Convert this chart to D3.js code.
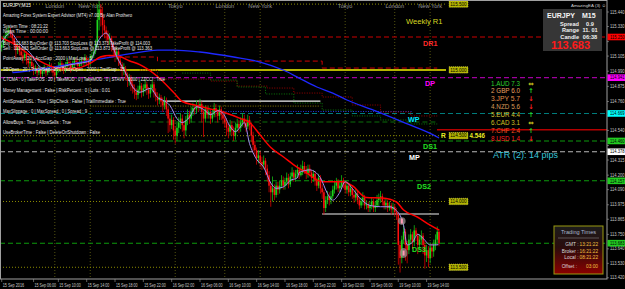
<!DOCTYPE html>
<html>
<head>
<meta charset="utf-8">
<script src="https://cdn.jsdelivr.net/npm/d3@7"></script>
<style>
  body { margin: 0; background: #000; }
  svg { display: block; }
</style>
</head>
<body>
<div id="chart"></div>
<script>
// ---------- data (EURJPY M15) ----------
const symbolTitle = "EURJPY,M15";

const opens = [
  115.17,115.19,115.23,115.26,115.28,115.30,115.27,115.24,115.19,115.15,
  115.17,115.14,115.11,115.09,115.12,115.07,115.05,115.06,115.03,115.00,
  115.01,114.98,115.00,114.97,114.99,115.01,114.98,115.00,115.03,115.01,
  114.98,114.96,115.00,115.03,115.05,115.02,115.00,115.03,115.06,115.05,
  115.01,115.04,115.07,115.06,115.03,115.05,115.07,115.06,115.09,115.07,
  115.05,115.09,115.11,115.14,115.19,115.38,115.46,115.42,115.34,115.30,
  115.27,115.23,115.24,115.19,115.15,115.11,115.14,115.07,115.04,115.00,
  115.01,114.96,114.92,114.94,114.89,114.86,114.83,114.81,114.85,114.88,
  114.83,114.86,114.89,114.85,114.82,114.86,114.89,114.83,114.80,114.77,
  114.79,114.76,114.73,114.77,114.70,114.63,114.58,114.62,114.54,114.50,
  114.56,114.60,114.63,114.58,114.54,114.62,114.66,114.63,114.68,114.71,
  114.70,114.73,114.71,114.74,114.68,114.63,114.70,114.66,114.68,114.63,
  114.66,114.71,114.68,114.65,114.70,114.66,114.63,114.60,114.56,114.53,
  114.58,114.54,114.50,114.56,114.59,114.56,114.60,114.63,114.60,114.57,
  114.62,114.58,114.50,114.43,114.39,114.33,114.35,114.30,114.28,114.31,
  114.25,114.20,114.12,114.07,114.10,114.05,114.12,114.09,114.12,114.16,
  114.12,114.15,114.18,114.13,114.19,114.22,114.18,114.21,114.24,
  114.20,114.22,114.27,114.24,114.21,114.25,114.22,114.18,114.21,114.16,
  114.12,114.18,114.10,114.07,113.95,114.01,114.04,114.01,114.04,114.09,
  114.12,114.15,114.10,114.12,114.16,114.13,114.09,114.12,114.07,114.10,
  114.05,114.03,114.06,114.01,113.97,114.00,114.03,113.97,113.98,113.95,
  113.97,114.00,113.95,113.97,
  114.01,114.03,114.04,114.00,113.97,113.99,113.95,113.97,113.94,113.96,
  113.92,113.90,113.67,113.57,113.71,113.77,113.67,113.63,113.71,113.75,
  113.69,113.78,113.74,113.67,113.71,113.74,113.67,113.59,113.63,113.57,
  113.65,113.62,113.67,113.71,113.77
];
const highs = [
  115.22,115.26,115.29,115.32,115.33,115.32,115.29,115.26,115.21,115.20,
  115.19,115.16,115.14,115.15,115.14,115.10,115.09,115.08,115.05,115.04,
  115.03,115.03,115.02,115.02,115.04,115.03,115.03,115.06,115.05,115.03,
  115.00,115.03,115.06,115.08,115.07,115.05,115.06,115.09,115.08,115.07,
  115.07,115.10,115.09,115.08,115.08,115.10,115.09,115.12,115.11,115.09,
  115.12,115.14,115.17,115.23,115.50,115.53,115.50,115.48,115.38,115.33,
  115.30,115.28,115.26,115.22,115.18,115.17,115.16,115.10,115.06,115.05,
  115.03,114.98,114.97,114.96,114.92,114.89,114.86,114.88,114.92,114.90,
  114.89,114.93,114.91,114.87,114.89,114.92,114.91,114.86,114.83,114.82,
  114.81,114.79,114.80,114.79,114.72,114.66,114.66,114.64,114.57,114.60,
  114.64,114.67,114.66,114.61,114.65,114.70,114.69,114.72,114.75,114.74,
  114.77,114.76,114.78,114.76,114.70,114.73,114.73,114.72,114.70,114.70,
  114.75,114.74,114.70,114.73,114.72,114.69,114.66,114.63,114.59,114.62,
  114.61,114.57,114.60,114.63,114.62,114.64,114.67,114.66,114.63,114.66,
  114.65,114.60,114.53,114.46,114.41,114.39,114.38,114.34,114.35,114.33,
  114.28,114.23,114.14,114.19,114.13,114.15,114.15,114.16,114.20,114.19,
  114.18,114.22,114.21,114.22,114.26,114.24,114.24,114.28,114.26,
  114.28,114.31,114.30,114.27,114.28,114.28,114.24,114.24,114.23,114.18,
  114.21,114.20,114.13,114.09,114.04,114.08,114.07,114.08,114.12,114.16,
  114.18,114.17,114.15,114.20,114.18,114.15,114.15,114.14,114.13,114.12,
  114.08,114.10,114.08,114.03,114.03,114.07,114.05,114.01,114.00,114.00,
  114.03,114.02,114.00,114.05,
  114.06,114.08,114.06,114.02,114.02,114.01,114.00,113.99,113.99,113.98,
  113.95,113.92,113.70,113.74,113.84,113.79,113.70,113.75,113.79,113.77,
  113.82,113.80,113.76,113.75,113.78,113.76,113.70,113.67,113.66,113.69,
  113.68,113.71,113.75,113.81,113.79
];
const lows = [
  115.14,115.17,115.21,115.24,115.26,115.25,115.21,115.15,115.09,115.12,
  115.11,115.08,115.05,115.07,115.04,115.02,115.02,114.99,114.96,114.97,
  114.95,114.96,114.94,114.95,114.97,114.95,114.96,114.98,114.98,114.95,
  114.92,114.94,114.98,115.01,114.99,114.97,114.98,115.01,115.02,114.98,
  114.99,115.02,115.03,115.00,115.01,115.03,115.03,115.04,115.04,115.02,
  115.03,115.07,115.09,115.12,115.17,115.30,115.33,115.25,115.24,115.22,
  115.19,115.19,115.14,115.11,115.06,115.08,115.03,114.99,114.95,114.96,
  114.92,114.87,114.88,114.84,114.82,114.78,114.77,114.78,114.82,114.79,
  114.80,114.83,114.81,114.78,114.79,114.83,114.79,114.76,114.73,114.74,
  114.72,114.68,114.70,114.65,114.52,114.53,114.55,114.47,114.44,114.46,
  114.52,114.55,114.53,114.48,114.50,114.58,114.59,114.60,114.65,114.66,
  114.67,114.68,114.69,114.60,114.49,114.60,114.63,114.63,114.59,114.60,
  114.64,114.64,114.60,114.62,114.62,114.59,114.56,114.50,114.48,114.50,
  114.50,114.46,114.47,114.53,114.52,114.53,114.57,114.56,114.53,114.55,
  114.54,114.45,114.38,114.34,114.28,114.29,114.26,114.24,114.25,114.20,
  114.15,114.07,113.96,114.00,114.01,114.03,114.05,114.06,114.10,114.09,
  114.09,114.12,114.10,114.11,114.16,114.15,114.15,114.18,114.17,
  114.19,114.20,114.21,114.17,114.18,114.19,114.14,114.15,114.12,114.08,
  114.10,114.06,114.02,113.90,113.92,113.98,113.97,113.98,114.02,114.06,
  114.09,114.07,114.07,114.10,114.10,114.06,114.06,114.04,114.04,114.02,
  113.99,114.00,113.98,113.94,113.95,113.97,113.94,113.94,113.92,113.92,
  113.94,113.92,113.92,113.95,
  113.96,113.99,113.97,113.94,113.94,113.92,113.93,113.90,113.91,113.89,
  113.86,113.52,113.46,113.53,113.68,113.55,113.53,113.60,113.68,113.64,
  113.66,113.70,113.60,113.63,113.67,113.60,113.49,113.54,113.50,113.53,
  113.57,113.58,113.63,113.67,113.66
];
const closes = [
  115.19,115.23,115.26,115.28,115.30,115.27,115.24,115.19,115.15,115.17,
  115.14,115.11,115.09,115.12,115.07,115.05,115.06,115.03,115.00,115.01,
  114.98,115.00,114.97,114.99,115.01,114.98,115.00,115.03,115.01,114.98,
  114.96,115.00,115.03,115.05,115.02,115.00,115.03,115.06,115.05,115.01,
  115.04,115.07,115.06,115.03,115.05,115.07,115.06,115.09,115.07,115.05,
  115.09,115.11,115.14,115.19,115.38,115.46,115.42,115.34,115.30,115.27,
  115.23,115.24,115.19,115.15,115.11,115.14,115.07,115.04,115.00,115.01,
  114.96,114.92,114.94,114.89,114.86,114.83,114.81,114.85,114.88,114.83,
  114.86,114.89,114.85,114.82,114.86,114.89,114.83,114.80,114.77,114.79,
  114.76,114.73,114.77,114.70,114.63,114.58,114.62,114.54,114.50,114.56,
  114.60,114.63,114.58,114.54,114.62,114.66,114.63,114.68,114.71,114.70,
  114.73,114.71,114.74,114.68,114.63,114.70,114.66,114.68,114.63,114.66,
  114.71,114.68,114.65,114.70,114.66,114.63,114.60,114.56,114.53,114.58,
  114.54,114.50,114.56,114.59,114.56,114.60,114.63,114.60,114.57,114.62,
  114.58,114.50,114.43,114.39,114.33,114.35,114.30,114.28,114.31,114.25,
  114.20,114.12,114.07,114.10,114.05,114.12,114.09,114.12,114.16,114.12,
  114.15,114.18,114.13,114.19,114.22,114.18,114.21,114.24,114.20,
  114.22,114.27,114.24,114.21,114.25,114.22,114.18,114.21,114.16,114.12,
  114.18,114.10,114.07,113.95,114.01,114.04,114.01,114.04,114.09,114.12,
  114.15,114.10,114.12,114.16,114.13,114.09,114.12,114.07,114.10,114.05,
  114.03,114.06,114.01,113.97,114.00,114.03,113.97,113.98,113.95,113.97,
  114.00,113.95,113.97,114.01,
  114.03,114.04,114.00,113.97,113.99,113.95,113.97,113.94,113.96,113.92,
  113.90,113.67,113.57,113.71,113.77,113.67,113.63,113.71,113.75,113.69,
  113.78,113.74,113.67,113.71,113.74,113.67,113.59,113.63,113.57,113.65,
  113.62,113.67,113.71,113.77,113.683
];

// moving averages as [bar, price]
const fastMA = [[0,115.21],[5,115.28],[10,115.20],[16,115.13],[22,115.02],[27,115.00],[33,115.02],
  [39,115.04],[44,115.05],[50,115.07],[55,115.23],[59,115.28],[65,115.10],[71,114.95],[74,114.87],
  [78,114.83],[84,114.86],[88,114.79],[91,114.77],[95,114.73],[99,114.63],[102,114.60],[106,114.64],
  [110,114.72],[114,114.70],[118,114.66],[122,114.69],[125,114.67],[129,114.57],[132,114.53],
  [135,114.57],[137,114.60],[140,114.44],[144,114.32],[148,114.26],[152,114.14],[155,114.10],
  [159,114.11],[163,114.16],[167,114.18],[168,114.22],[174,114.24],[180,114.18],[184,114.06],
  [187,114.01],[191,114.07],[194,114.15],[198,114.10],[202,114.03],[208,113.97],[214,113.96],
  [219,113.96],[223,113.93],[227,113.82],[229,113.67],[232,113.69],[235,113.75],[238,113.72],
  [242,113.67],[246,113.67],[247,113.68]];
const slowMA = [[0,115.24],[8,115.19],[16,115.11],[24,115.05],[33,115.01],[41,115.01],[50,115.05],
  [56,115.10],[61,115.11],[67,115.10],[72,115.07],[78,115.04],[88,114.95],[97,114.83],[102,114.76],
  [110,114.73],[119,114.70],[127,114.67],[135,114.63],[140,114.60],[146,114.505],[152,114.41],
  [159,114.34],[167,114.26],[172,114.22],[181,114.15],[193,114.15],[198,114.12],[206,114.03],
  [215,114.026],[223,113.996],[227,113.935],[235,113.88],[242,113.82],[247,113.783]];
const longMA = [[6,114.98],[10,114.984],[33,115.03],[56,115.083],[72,115.121],[88,115.151],[97,115.151],
  [112,115.136],[131,115.098],[146,115.06],[159,114.999],[168,114.938],[178,114.87],[187,114.824],
  [195,114.771],[210,114.695],[228,114.596],[246,114.49],[247,114.482]];

// axes
const priceTicks = [115.440,115.330,115.215,115.105,114.990,114.875,114.760,114.650,114.540,114.425,
  114.315,114.200,114.090,113.975,113.865,113.750,113.640,113.530,113.420];
const timeTickBars = [0,18,32,48,64,80,96,112,128,144,160,176,192,208,224,240];
const timeTickLabels = ["15 Sep 2016","15 Sep 06:00","15 Sep 10:00","15 Sep 14:00","15 Sep 18:00",
  "15 Sep 22:00","16 Sep 02:00","16 Sep 06:00","16 Sep 10:00","16 Sep 14:00","16 Sep 18:00",
  "16 Sep 22:00","19 Sep 02:00","19 Sep 06:00","19 Sep 10:00","19 Sep 14:00"];
const sessionBars = [30,50,98,126,146,194,222,242];
const sessionNames = ["London","New York","Tokyo","London","New York","Tokyo","London","New York"];

// pivot levels
const levelNames = ["DR1","DP","WP","DS1","MP","DS2","DS3"];
const levelPrices = [115.250,114.941,114.669,114.460,114.378,114.157,113.683];
const roundPrices = [115.500,115.000,114.500,114.000,113.500];
const resistPrice = 114.546;
const resistText = ["R", "4.546"];

// segments [fromBar, toBar, price]
const whiteLines = [[91,180,114.763],[181,247,113.905]];
const pendingRed = [[56,88,115.098],[88,181,115.067],[181,246,115.014]];
const stepRed = [[78,88,114.999],[88,118,114.93],[118,133,114.915],[133,150,114.877],[150,165,114.862],
  [165,181,114.824],[181,198,114.794],[198,214,114.733],[214,231,114.68],[231,246,114.65]];
const stepGreen = [[102,118,114.976],[118,133,114.923],[133,149,114.87],[149,165,114.817],
  [165,181,114.748],[181,198,114.695],[198,214,114.65],[214,231,114.619],[231,246,114.589]];
const oliveDotted = [[50,180,114.725]];
const blueDotted = [[53,232,114.684]];
const greenDashed = [[84,246,114.604]];
const fiboMarks = [[226,113.851],[227,113.608]];

// texts
const dashboardLines = [
  "Amazing Forex System Expert Advisor (MT4) v7.00 By Alan Prothero",
  "System Time : 08:21:22",
  "News Time    : 00:00:00",
  "Buy  : 113.683 BuyOrder @ 113.703 StopLoss @ 113.373 TakeProfit @ 114.003",
  "Sell : 113.683 SellOrder @ 113.663 StopLoss @ 113.873 TakeProfit @ 113.363",
  "PointAway : 20 | AcctGap : 2000 | MaxLoss : 5",
  "SBOpen : 20 | TradeGap : 20 | TradeOpen : 2000 | TrailStop : 25",
  "CTCMA : 0 | TakePOS : 20 | TakeMOD : 0 | TakeMOD : 0 | STAVV : 2000 | ZZCCI : True",
  "Money Management : False | RiskPercent : 0 | Lots : 0.01",
  "AntiSpreadToSL : True | SlipCheck : False | TrailImmediate : True",
  "MaxSlippage : 0 | MaxSpread : 0 | Spread : 9",
  "AllowBuys : True | AllowSells : True",
  "UseBrokerTime : False | DeleteOnShutdown : False"
];
const strengthNames = ["1.AUD 7.3","2 GBP 6.0","3.JPY 5.7","4.NZD 5.6","5.EUR 4.4","6.CAD 3.1","7.CHF 2.4","8.USD 1.4"];
const strengthDir = ["flat","up","down","down","up","flat","up","down"];
const infoTitle = ["EURJPY","M15"];
const infoRows = [["Spread","0.9"],["Range","11. 01"],["Candle","06:38"]];
const bidPrice = "113.683";
const atrText = "ATR (2): 14 pips";
const tradingRows = [["GMT :","13:21:22"],["Broker :","16:21:22"],["Local :","08:21:22"]];
const offsetRow = ["Offset :","03:00"];

// ---------- layout ----------
const W = 625, H = 289;
const plotRight = 607, plotBottom = 279;
const font = "Liberation Sans, Arial, sans-serif";

const svg = d3.select("#chart").append("svg")
    .attr("width", W).attr("height", H)
    .style("background", "#000");

const x = d3.scaleLinear().domain([0, 247]).range([1.7, 439]);
const y = d3.scaleLinear().domain([113.420, 115.440]).range([277.8, 12]);

svg.append("clipPath").attr("id", "plotclip")
    .append("rect").attr("x", 0).attr("y", 0).attr("width", plotRight).attr("height", plotBottom);

const plot = svg.append("g").attr("clip-path", "url(#plotclip)");

// session lines
plot.selectAll(".session").data(sessionBars).join("line")
    .attr("x1", d => x(d)).attr("x2", d => x(d))
    .attr("y1", 0).attr("y2", plotBottom)
    .attr("stroke", "#6a6a14").attr("stroke-width", 0.8)
    .attr("stroke-dasharray", "1,2");

plot.selectAll(".sessionLabel").data(sessionBars).join("text")
    .attr("x", d => x(d)).attr("y", 8)
    .attr("text-anchor", "middle")
    .style("font-family", font).style("font-size", "5.6px")
    .attr("fill", "#9a9a9a")
    .text((d, i) => sessionNames[i]);

// round number lines
const roundRight = 446;
plot.selectAll(".round").data(roundPrices).join("line")
    .attr("x1", 0).attr("x2", roundRight)
    .attr("y1", d => y(d)).attr("y2", d => y(d))
    .attr("stroke", d => d === 115.0 ? "#b4b400" : "#8c8c00")
    .attr("stroke-width", d => d === 115.0 ? 2 : 1)
    .attr("stroke-dasharray", d => d === 115.0 ? null : "1,2");

// helper segments
function segments(data, color, width, dash) {
  plot.append("g").selectAll("line").data(data).join("line")
      .attr("x1", d => x(d[0])).attr("x2", d => x(d[1]))
      .attr("y1", d => y(d[2])).attr("y2", d => y(d[2]))
      .attr("stroke", color).attr("stroke-width", width)
      .attr("stroke-dasharray", dash);
}
function stepped(data, color, width, dash) {
  const pts = [];
  data.forEach(d => { pts.push([x(d[0]), y(d[2])]); pts.push([x(d[1]), y(d[2])]); });
  plot.append("path").attr("d", d3.line()(pts))
      .attr("fill", "none").attr("stroke", color)
      .attr("stroke-width", width).attr("stroke-dasharray", dash);
}
segments(oliveDotted, "#9a8a00", 0.9, "1,1.5");
segments(blueDotted, "#2a3cff", 0.9, "1,1.5");
segments(greenDashed, "#0a6e0a", 1, "5,3");
stepped(pendingRed, "#d00000", 1, "5,3");
stepped(stepRed, "#9a0000", 1, "1,1.5");
stepped(stepGreen, "#0a7a0a", 1, "1,1.5");

// pivot levels
const levelStyle = {
  DR1: { line: "#cc0000", text: "#ff2a2a", box: "#ff0000", lx: 423 },
  DP:  { line: "#a000a0", text: "#ff00ff", box: "#ff00ff", lx: 425 },
  WP:  { line: "#007c7c", text: "#00e8ff", box: "#00ffff", lx: 408 },
  DS1: { line: "#0c9a0c", text: "#22e022", box: "#22cc22", lx: 423 },
  MP:  { line: "#b8b8b8", text: "#ffffff", box: "#ffffff", lx: 409 },
  DS2: { line: "#0c9a0c", text: "#22e022", box: "#22cc22", lx: 417 },
  DS3: { line: "#0c9a0c", text: "#22e022", box: "#22cc22", lx: 412 }
};
plot.selectAll(".level").data(levelNames).join("line")
    .attr("x1", 0).attr("x2", plotRight)
    .attr("y1", (d, i) => y(levelPrices[i])).attr("y2", (d, i) => y(levelPrices[i]))
    .attr("stroke", d => levelStyle[d].line).attr("stroke-width", 1.1)
    .attr("stroke-dasharray", "5,3");

// resistance line on the right
plot.append("line")
    .attr("x1", 437).attr("x2", plotRight)
    .attr("y1", y(resistPrice)).attr("y2", y(resistPrice))
    .attr("stroke", "#b40000").attr("stroke-width", 1.5);

// white lines
segments(whiteLines, "#f0f0f0", 1.2, null);

// candles
const bars = d3.range(opens.length);
const candle = plot.append("g").selectAll("g").data(bars).join("g");
candle.append("rect")
    .attr("x", i => x(i) - 0.4).attr("width", 0.8)
    .attr("y", i => y(highs[i]))
    .attr("height", i => y(lows[i]) - y(highs[i]))
    .attr("fill", i => closes[i] >= opens[i] ? "#14b814" : "#d40000");
candle.append("rect")
    .attr("x", i => x(i) - 0.75).attr("width", 1.5)
    .attr("y", i => y(Math.max(opens[i], closes[i])))
    .attr("height", i => Math.max(0.8, Math.abs(y(opens[i]) - y(closes[i]))))
    .attr("fill", i => closes[i] >= opens[i] ? "#1ed81e" : "#ff1010");

// moving averages
const maLine = d3.line().x(d => x(d[0])).y(d => y(d[1])).curve(d3.curveMonotoneX);
plot.append("path").attr("d", maLine(longMA))
    .attr("fill", "none").attr("stroke", "#1e28ff").attr("stroke-width", 1.3);
plot.append("path").attr("d", maLine(slowMA))
    .attr("fill", "none").attr("stroke", "#ff0000").attr("stroke-width", 1.5);
plot.append("path").attr("d", maLine(fastMA))
    .attr("fill", "none").attr("stroke", "#a48cf0").attr("stroke-width", 1);

// fibo marks
plot.selectAll(".fibo").data(fiboMarks).join("ellipse")
    .attr("cx", d => x(d[0])).attr("cy", d => y(d[1]))
    .attr("rx", 3.8).attr("ry", (d, i) => i === 0 ? 3.8 : 5)
    .attr("fill", "#9a8c8c").attr("fill-opacity", 0.75);
plot.selectAll(".fiboIn").data(fiboMarks).join("rect")
    .attr("x", d => x(d[0]) - 1).attr("y", d => y(d[1]) - 2.5)
    .attr("width", 2).attr("height", 5)
    .attr("fill", "#ff9ab4");

// level labels
plot.selectAll(".levelLabel").data(levelNames).join("text")
    .attr("x", d => levelStyle[d].lx)
    .attr("y", (d, i) => y(levelPrices[i]) + 8.5)
    .style("font-family", font).style("font-size", "7.2px").style("font-weight", "bold")
    .attr("fill", d => levelStyle[d].text)
    .text(d => d);

plot.append("text")
    .attr("x", 406).attr("y", 23.5)
    .style("font-family", font).style("font-size", "7.6px")
    .attr("fill", "#d8d820")
    .text("Weekly R1");

// resistance label: the round-number box hides its middle, so draw the two visible parts
plot.append("text")
    .attr("x", 441).attr("y", y(resistPrice) + 8.5)
    .style("font-family", font).style("font-size", "6.6px").style("font-weight", "bold")
    .attr("fill", "#e8e820")
    .text(resistText[0]);
plot.append("text")
    .attr("x", 469.5).attr("y", y(resistPrice) + 8.5)
    .attr("textLength", 15.5).attr("lengthAdjust", "spacingAndGlyphs")
    .style("font-family", font).style("font-size", "6.6px").style("font-weight", "bold")
    .attr("fill", "#e8e820")
    .text(resistText[1]);

// round number boxes
const rb = plot.selectAll(".roundBox").data(roundPrices).join("g")
    .attr("transform", d => `translate(449,${y(d)})`);
rb.append("rect").attr("x", 0).attr("y", -3.2).attr("width", 19).attr("height", 6.4)
    .attr("fill", "#b4b400").attr("stroke", "#e0e060").attr("stroke-width", 0.5)
    .attr("stroke-dasharray", "1,1");
rb.append("text").attr("x", 9.5).attr("y", 1.7).attr("text-anchor", "middle")
    .style("font-family", font).style("font-size", "4.6px")
    .attr("fill", "#000").text(d => d.toFixed(3));

// dashboard text
const dashY = [16.5, 27.5, 33, 44.5, 49.5, 59.5, 70.5, 81, 91.5, 102.5, 112.5, 123.5, 133.5];
const dashW = [129, 45, 45, 147, 149, 89, 122, 162, 107, 123, 84, 68, 97];
svg.append("g").selectAll("text").data(dashboardLines).join("text")
    .attr("x", 3).attr("y", (d, i) => dashY[i])
    .attr("textLength", (d, i) => dashW[i]).attr("lengthAdjust", "spacingAndGlyphs")
    .style("font-family", font).style("font-size", "4.6px")
    .attr("fill", "#e8e8e8")
    .text(d => d);

svg.append("text").attr("x", 3).attr("y", 6.5)
    .style("font-family", font).style("font-size", "4.6px")
    .attr("fill", "#ffffff").text(symbolTitle);

svg.append("text").attr("x", 571).attr("y", 6.5)
    .style("font-family", font).style("font-size", "4.4px")
    .attr("fill", "#d0d0d0").text("AmazingEA (3) ☺");

// info panel
const info = svg.append("g").attr("transform", "translate(543,9)");
info.append("rect").attr("width", 59).attr("height", 42).attr("fill", "#363636");
info.append("text").attr("x", 4).attr("y", 9)
    .style("font-family", font).style("font-size", "7px").style("font-weight", "bold")
    .attr("fill", "#f4f4f4").text(infoTitle[0]);
info.append("text").attr("x", 39).attr("y", 9)
    .style("font-family", font).style("font-size", "7px").style("font-weight", "bold")
    .attr("fill", "#f4f4f4").text(infoTitle[1]);
info.selectAll(".row").data(infoRows).join("text")
    .attr("x", 36).attr("y", (d, i) => 16.5 + i * 6.6)
    .attr("text-anchor", "end")
    .style("font-family", font).style("font-size", "5.6px").style("font-weight", "bold")
    .attr("fill", "#f0f0f0").text(d => d[0]);
info.selectAll(".val").data(infoRows).join("text")
    .attr("x", 47).attr("y", (d, i) => 16.5 + i * 6.6)
    .attr("text-anchor", "middle")
    .style("font-family", font).style("font-size", "5.6px").style("font-weight", "bold")
    .attr("fill", "#f0f0f0").text(d => d[1]);
info.append("text").attr("x", 27.5).attr("y", 39.5).attr("text-anchor", "middle")
    .style("font-family", font).style("font-size", "11px").style("font-weight", "bold")
    .attr("fill", "#ff1a1a").text(bidPrice);

// currency strength
const strengthColor = ["#2ed02e", "#e8a060", "#e0904a", "#d89a58", "#d8c830", "#d0c020", "#ff5020", "#ff2020"];
const arrowGlyph = { up: "↑", down: "↓", flat: "⇔" };
const arrowColor = { up: "#22dd22", down: "#ff2020", flat: "#d8d020" };
const cs = svg.append("g");
cs.selectAll(".cur").data(strengthNames).join("text")
    .attr("x", 491).attr("y", (d, i) => 85.5 + i * 7.9)
    .attr("textLength", 29).attr("lengthAdjust", "spacingAndGlyphs")
    .style("font-family", font).style("font-size", "7.2px")
    .attr("fill", (d, i) => strengthColor[i]).text(d => d);
cs.selectAll(".arr").data(strengthDir).join("text")
    .attr("x", 531).attr("y", (d, i) => 85.5 + i * 7.9)
    .attr("text-anchor", "middle")
    .style("font-family", "DejaVu Sans, sans-serif").style("font-size", "6.5px").style("font-weight", "bold")
    .attr("fill", d => arrowColor[d]).text(d => arrowGlyph[d]);

svg.append("text").attr("x", 493).attr("y", 158)
    .attr("textLength", 65).attr("lengthAdjust", "spacingAndGlyphs")
    .style("font-family", font).style("font-size", "9px")
    .attr("fill", "#38c4d8").text(atrText);

// trading times box
const grad = svg.append("defs").append("linearGradient")
    .attr("id", "ttgrad").attr("x1", 0).attr("x2", 0).attr("y1", 0).attr("y2", 1);
grad.append("stop").attr("offset", "0%").attr("stop-color", "#1c1c1c");
grad.append("stop").attr("offset", "45%").attr("stop-color", "#2a0c0c");
grad.append("stop").attr("offset", "100%").attr("stop-color", "#8c0000");
const tt = svg.append("g").attr("transform", "translate(554,226)");
tt.append("rect").attr("width", 49).attr("height", 48)
    .attr("fill", "url(#ttgrad)").attr("stroke", "#9a9a10").attr("stroke-width", 1);
tt.append("text").attr("x", 24.5).attr("y", 8).attr("text-anchor", "middle")
    .style("font-family", font).style("font-size", "5.6px")
    .attr("fill", "#a8b6cc").text("Trading Times");
tt.append("line").attr("x1", 4).attr("x2", 45).attr("y1", 12).attr("y2", 12)
    .attr("stroke", "#808080").attr("stroke-width", 0.6);
tt.selectAll(".tl").data(tradingRows).join("text")
    .attr("x", 24.5).attr("y", (d, i) => 20 + i * 6.5).attr("text-anchor", "end")
    .style("font-family", font).style("font-size", "4.8px")
    .attr("fill", "#d8d8d8").text(d => d[0]);
tt.selectAll(".tv").data(tradingRows).join("text")
    .attr("x", 25.5).attr("y", (d, i) => 20 + i * 6.5)
    .style("font-family", font).style("font-size", "4.8px")
    .attr("fill", "#f0c040").text(d => d[1]);
tt.append("text").attr("x", 23).attr("y", 41.5).attr("text-anchor", "end")
    .style("font-family", font).style("font-size", "4.8px")
    .attr("fill", "#d8d8d8").text(offsetRow[0]);
tt.append("text").attr("x", 44).attr("y", 41.5).attr("text-anchor", "end")
    .style("font-family", font).style("font-size", "4.8px")
    .attr("fill", "#f0c040").text(offsetRow[1]);

// frame
svg.append("rect").attr("x", 0.5).attr("y", 0.5)
    .attr("width", plotRight - 0.5).attr("height", plotBottom - 0.5)
    .attr("fill", "none").attr("stroke", "#a0a0a0").attr("stroke-width", 1);

// price axis (labels hidden where a coloured level box sits, as on the terminal)
const visibleTicks = priceTicks.filter(p => levelPrices.every(l => Math.abs(y(p) - y(l)) > 5.5));
const pa = svg.append("g");
pa.selectAll("line").data(priceTicks).join("line")
    .attr("x1", plotRight).attr("x2", plotRight + 2)
    .attr("y1", d => y(d)).attr("y2", d => y(d))
    .attr("stroke", "#a0a0a0").attr("stroke-width", 0.6);
pa.selectAll("text").data(visibleTicks).join("text")
    .attr("x", plotRight + 3).attr("y", d => y(d) + 1.6)
    .attr("textLength", 14.5).attr("lengthAdjust", "spacingAndGlyphs")
    .style("font-family", font).style("font-size", "4.6px")
    .attr("fill", "#c8c8c8").text(d => d.toFixed(3));

// coloured level boxes on the price axis
const lb = svg.append("g").selectAll("g").data(levelNames).join("g")
    .attr("transform", (d, i) => `translate(${plotRight + 0.5},${y(levelPrices[i])})`);
lb.append("rect").attr("x", 0).attr("y", -3.3).attr("width", 18).attr("height", 6.6)
    .attr("fill", d => levelStyle[d].box);
lb.append("text").attr("x", 2.5).attr("y", 1.7)
    .attr("textLength", 14.5).attr("lengthAdjust", "spacingAndGlyphs")
    .style("font-family", font).style("font-size", "4.6px")
    .attr("fill", "#000").text((d, i) => levelPrices[i].toFixed(3));

// time axis
const ta = svg.append("g");
ta.selectAll("line").data(timeTickBars).join("line")
    .attr("x1", d => x(d)).attr("x2", d => x(d))
    .attr("y1", plotBottom).attr("y2", plotBottom + 3)
    .attr("stroke", "#a0a0a0").attr("stroke-width", 0.6);
ta.selectAll("text").data(timeTickBars).join("text")
    .attr("x", d => x(d) + 1).attr("y", 286.5)
    .attr("textLength", 21.5).attr("lengthAdjust", "spacingAndGlyphs")
    .style("font-family", font).style("font-size", "4.6px")
    .attr("fill", "#c8c8c8").text((d, i) => timeTickLabels[i]);
</script>
</body>
</html>
